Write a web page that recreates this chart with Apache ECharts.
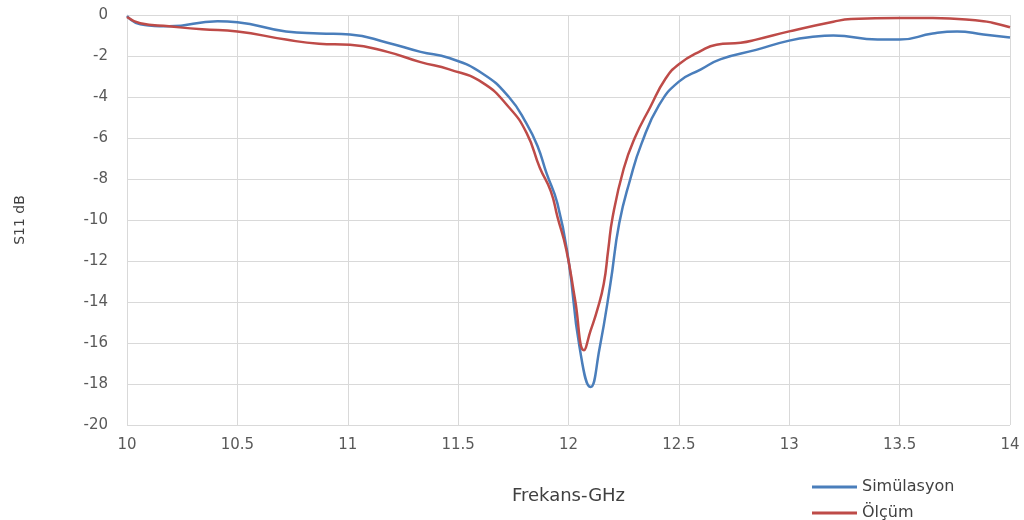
<!DOCTYPE html>
<html>
<head>
<meta charset="utf-8">
<script src="https://cdn.jsdelivr.net/npm/echarts@6/dist/echarts.min.js"></script>
<style>
  html, body { margin: 0; padding: 0; background: #fff; }
  #chart { width: 1024px; height: 520px; }
</style>
</head>
<body>
<div id="chart"></div>
<script>
const simFreq = [10.0, 10.06, 10.19, 10.41, 10.5, 10.72, 10.87, 11.01, 11.18, 11.33, 11.46, 11.61, 11.73, 11.81, 11.86, 11.9, 11.95, 12.0, 12.05, 12.1, 12.14, 12.19, 12.23, 12.28, 12.33, 12.41, 12.5, 12.6, 12.69, 12.85, 13.0, 13.12, 13.2, 13.4, 13.5, 13.65, 13.76, 13.88, 14.0]
const simDb = [-0.05, -0.45, -0.55, -0.3, -0.35, -0.8, -0.9, -0.95, -1.35, -1.8, -2.1, -2.85, -4.0, -5.3, -6.4, -7.7, -9.2, -11.95, -16.2, -18.15, -16.3, -13.1, -10.15, -8.0, -6.3, -4.4, -3.25, -2.65, -2.15, -1.7, -1.25, -1.05, -1.0, -1.2, -1.2, -0.9, -0.8, -0.95, -1.1]

const measFreq = [10.0, 10.06, 10.19, 10.34, 10.5, 10.72, 10.87, 11.01, 11.18, 11.33, 11.46, 11.61, 11.73, 11.81, 11.87, 11.92, 11.95, 11.99, 12.03, 12.07, 12.1, 12.13, 12.16, 12.18, 12.2, 12.25, 12.3, 12.37, 12.44, 12.5, 12.6, 12.67, 12.78, 12.85, 13.0, 13.2, 13.28, 13.5, 13.65, 13.88, 13.92, 14.0]
const measDb = [-0.1, -0.4, -0.55, -0.7, -0.8, -1.2, -1.4, -1.45, -1.8, -2.3, -2.65, -3.3, -4.5, -5.75, -7.45, -8.6, -9.85, -11.45, -13.9, -16.35, -15.4, -14.4, -13.1, -11.45, -9.85, -7.5, -6.0, -4.5, -3.1, -2.4, -1.75, -1.45, -1.35, -1.2, -0.8, -0.33, -0.2, -0.15, -0.15, -0.3, -0.38, -0.6]

const seriesNames = ["Simülasyon", "Ölçüm"]
const seriesColors = ["#4a7ebb", "#be4b48"]

const zip = (xs, ys) => xs.map((x, i) => [x, ys[i]])

const chart = echarts.init(document.getElementById("chart"))
const font = "DejaVu Sans, sans-serif"
const labelColor = "#595959"
const nameColor = "#404040"
const gridColor = "#d9d9d9"

// one legend per row so the two entries stack like the original
const legendFor = (name, top) => ({
  left: 807,
  top: top,
  itemWidth: 45,
  itemHeight: 3,
  itemGap: 4,
  icon: "rect",
  textStyle: { color: nameColor, fontSize: 16, fontFamily: font },
  data: [name]
})

chart.setOption({
  animation: false,
  textStyle: { fontFamily: font },
  grid: { left: 127, right: 14, top: 15, bottom: 95 },
  xAxis: {
    type: "value",
    min: 10,
    max: 14,
    interval: 0.5,
    name: "Frekans-GHz",
    nameLocation: "middle",
    nameGap: 62,
    nameTextStyle: { color: nameColor, fontSize: 18, fontFamily: font },
    axisLine: { lineStyle: { color: gridColor } },
    axisTick: { show: false },
    axisLabel: { color: labelColor, fontSize: 15, margin: 13, fontFamily: font },
    splitLine: { show: true, lineStyle: { color: gridColor } }
  },
  yAxis: {
    type: "value",
    min: -20,
    max: 0,
    interval: 2,
    name: "S11 dB",
    nameLocation: "middle",
    nameGap: 100,
    nameRotate: 90,
    nameTextStyle: { color: nameColor, fontSize: 14, fontFamily: font },
    axisLine: { show: true, lineStyle: { color: gridColor } },
    axisTick: { show: false },
    axisLabel: { color: labelColor, fontSize: 15, margin: 19, fontFamily: font },
    splitLine: { lineStyle: { color: gridColor } }
  },
  legend: [legendFor(seriesNames[0], 474), legendFor(seriesNames[1], 500)],
  series: [
    {
      name: seriesNames[0],
      type: "line",
      smooth: 0.5,
      showSymbol: false,
      color: seriesColors[0],
      lineStyle: { width: 2.5, color: seriesColors[0] },
      data: zip(simFreq, simDb)
    },
    {
      name: seriesNames[1],
      type: "line",
      smooth: 0.5,
      showSymbol: false,
      color: seriesColors[1],
      lineStyle: { width: 2.5, color: seriesColors[1] },
      data: zip(measFreq, measDb)
    }
  ]
})
</script>
</body>
</html>
